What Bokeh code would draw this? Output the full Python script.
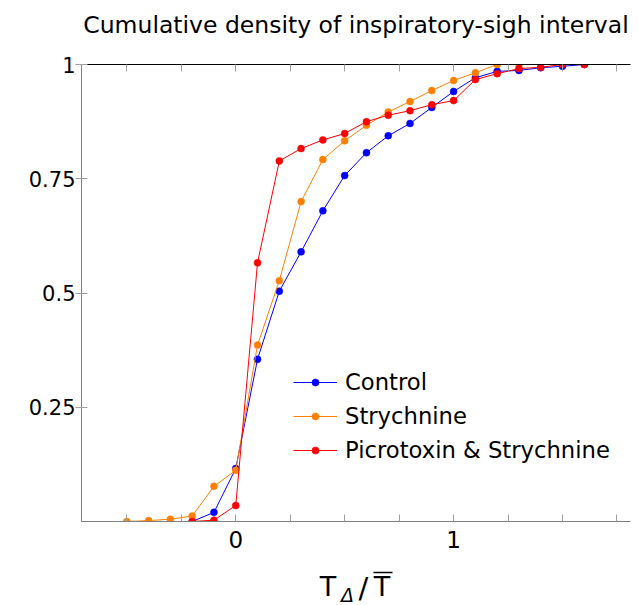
from bokeh.plotting import figure
from bokeh.layouts import column
from bokeh.models import (FixedTicker, LinearAxis, Legend, LegendItem, Label,
                          BoxAnnotation, Range1d, CustomJSTickFormatter)
from bokeh.embed import file_html
from bokeh.resources import INLINE

FONT = "DejaVu Sans"

# ---- data ----
x_control = [-0.2, -0.1, 0.0, 0.1, 0.2, 0.3, 0.4, 0.5, 0.6, 0.7, 0.8, 0.9,
             1.0, 1.1, 1.2, 1.3, 1.4, 1.5, 1.6]
y_control = [0.0, 0.02, 0.116, 0.355, 0.504, 0.590, 0.680, 0.757, 0.807, 0.844,
             0.871, 0.906, 0.941, 0.971, 0.985, 0.987, 0.993, 0.996, 1.0]

x_strych = [-0.5, -0.4, -0.3, -0.2, -0.1, 0.0, 0.1, 0.2, 0.3, 0.4, 0.5, 0.6,
            0.7, 0.8, 0.9, 1.0, 1.1, 1.2, 1.3]
y_strych = [0.0, 0.002, 0.005, 0.012, 0.077, 0.112, 0.386, 0.527, 0.700, 0.792,
            0.833, 0.867, 0.896, 0.919, 0.943, 0.965, 0.982, 1.0, 1.0]

x_picro = [-0.2, -0.1, 0.0, 0.1, 0.2, 0.3, 0.4, 0.5, 0.6, 0.7, 0.8, 0.9,
           1.0, 1.1, 1.2, 1.3, 1.4, 1.5, 1.6]
y_picro = [0.0, 0.003, 0.035, 0.566, 0.789, 0.816, 0.835, 0.849, 0.875, 0.889,
           0.899, 0.912, 0.921, 0.967, 0.980, 0.991, 0.994, 1.0, 1.0]

series_labels = ["Control", "Strychnine", "Picrotoxin & Strychnine"]
series_colors = ["#0000ff", "#ff8000", "#ff0000"]

x_major_ticks = [0, 1]
x_minor_ticks = [-0.5, -0.25, 0.25, 0.5, 0.75, 1.25, 1.5, 1.75]
y_ticks = [0.25, 0.5, 0.75, 1.0]

title_text = "Cumulative density of inspiratory-sigh interval"

TICK_COLOR = "#a0a0a0"
AXIS_COLOR = "#808080"

# ---- main figure ----
p = figure(width=638, height=515, x_range=Range1d(-0.708, 1.812),
           y_range=Range1d(0, 1), output_backend="svg", toolbar_location=None,
           title=None, min_border_left=81, min_border_right=8, min_border_top=14,
           min_border_bottom=44)
p.outline_line_color = None
p.grid.visible = False
p.background_fill_color = "white"
p.border_fill_color = "white"

# bottom axis
xa = p.below[0]
xa.ticker = FixedTicker(ticks=x_major_ticks, minor_ticks=x_minor_ticks)
xa.axis_line_color = AXIS_COLOR
xa.major_tick_line_color = TICK_COLOR
xa.minor_tick_line_color = TICK_COLOR
xa.major_tick_in = 7
xa.major_tick_out = 0
xa.minor_tick_in = 7
xa.minor_tick_out = 0
xa.major_label_text_font = FONT
xa.major_label_text_font_size = "23px"
xa.major_label_text_color = "black"
xa.major_label_standoff = 9

# left axis
ya = p.left[0]
ya.ticker = FixedTicker(ticks=y_ticks, minor_ticks=[])
ya.formatter = CustomJSTickFormatter(code="return tick.toString()")
ya.axis_line_color = AXIS_COLOR
ya.major_tick_line_color = TICK_COLOR
ya.major_tick_in = 6
ya.major_tick_out = 6
ya.minor_tick_line_color = None
ya.major_label_text_font = FONT
ya.major_label_text_font_size = "21px"
ya.major_label_text_color = "black"
ya.major_label_standoff = 0

# top mirrored axis (ticks only)
top = LinearAxis(ticker=FixedTicker(ticks=x_major_ticks, minor_ticks=x_minor_ticks),
                 formatter=CustomJSTickFormatter(code="return ''"),
                 axis_line_color="black", major_tick_line_color=TICK_COLOR,
                 minor_tick_line_color=TICK_COLOR, major_tick_in=7, major_tick_out=0,
                 minor_tick_in=7, minor_tick_out=0, major_label_standoff=0,
                 major_label_text_font_size="1px")
p.add_layout(top, "above")

# ---- series ----
items = []
for xs, ys, lab, col in [(x_control, y_control, series_labels[0], series_colors[0]),
                         (x_strych, y_strych, series_labels[1], series_colors[1]),
                         (x_picro, y_picro, series_labels[2], series_colors[2])]:
    ln = p.line(xs, ys, line_color=col, line_width=1)
    sc = p.scatter(xs, ys, marker="circle", size=7, fill_color=col, line_color=col,
                   line_width=0.5)
    items.append(LegendItem(label=lab, renderers=[ln, sc]))

legend = Legend(items=items, location=(212, 58), border_line_color=None,
                background_fill_alpha=0, padding=0, margin=0, glyph_width=44,
                glyph_height=18, label_height=26, spacing=8, label_standoff=8,
                label_text_font=FONT, label_text_font_size="22.7px",
                label_text_color="black")
p.add_layout(legend)


def strip(height):
    s = figure(width=638, height=height, x_range=p.x_range,
               y_range=Range1d(0, height), output_backend="svg",
               toolbar_location=None, title=None, min_border_left=81,
               min_border_right=8, min_border_top=0, min_border_bottom=0,
               x_axis_location=None, y_axis_location=None)
    s.outline_line_color = None
    s.grid.visible = False
    s.border_fill_color = "white"
    s.background_fill_color = "white"
    return s


common = dict(x_units="screen", y_units="screen", text_align="center",
              text_baseline="middle", text_font=FONT, text_color="black")

# ---- title strip ----
t = strip(50)
t.add_layout(Label(x=274.5, y=25.1, text=title_text, text_font_size="23.5px",
                   **common))

# ---- x-axis label  T_Δ / T̄  (strip below the plot, frame aligned) ----
q = strip(40)
q.add_layout(Label(x=246.5, y=19.3, text="T", text_font_size="27px", **common))
q.add_layout(Label(x=266, y=10.6, text="Δ", text_font_size="19px",
                   text_font_style="italic", **common))
q.add_layout(Label(x=282, y=17.9, text="/", text_font_size="29px", **common))
q.add_layout(Label(x=300.5, y=19.3, text="T", text_font_size="27px", **common))
q.add_layout(BoxAnnotation(left=292, right=311, top=33.7, bottom=32.3,
                           left_units="screen", right_units="screen",
                           top_units="screen", bottom_units="screen",
                           fill_color="black", fill_alpha=1, line_color=None))

open("out.html", "w").write(file_html(column(t, p, q), INLINE))
